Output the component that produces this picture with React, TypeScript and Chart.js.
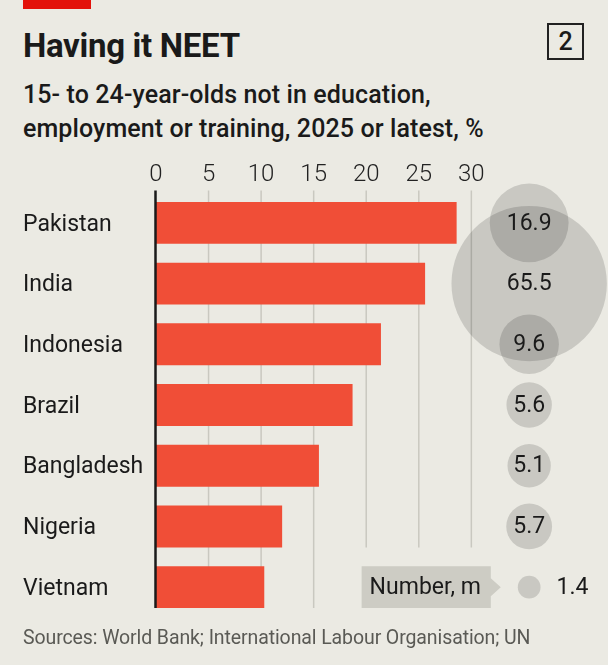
import React, { useEffect, useRef } from 'react';
import { Chart, registerables } from 'chart.js';

Chart.register(...registerables);

// ---- data ----
const categories = ['Pakistan', 'India', 'Indonesia', 'Brazil', 'Bangladesh', 'Nigeria', 'Vietnam'];
const neetSharePct = [28.6, 25.6, 21.4, 18.7, 15.5, 12.0, 10.3];
const neetNumberM = [16.9, 65.5, 9.6, 5.6, 5.1, 5.7, 1.4];
const xTickValues = [0, 5, 10, 15, 20, 25, 30];

// ---- style / layout constants ----
const BG = '#ebeae3';
const BAR_COLOR = '#f04e37';
const BUBBLE_COLOR = 'rgba(0,0,0,0.145)';
const GRID_COLOR = '#c9c8c0';
const TEXT = '#1a1a1a';
const X_MAX = 43;
const BUBBLE_COLUMN_X = 35.5;
const RADIUS_PER_SQRT_M = 9.6;
const LEGEND_TEXT = 'Number, m';

function legendGeometry(chart: any) {
  const bars = chart.getDatasetMeta(0).data;
  const bubbles = chart.getDatasetMeta(1).data;
  const last = bars.length - 1;
  const bar = bars[last];
  const bub = bubbles[last];
  const r = bub.options.radius;
  const ctx = chart.ctx;
  ctx.save();
  ctx.font = '400 23px Roboto';
  const tw = ctx.measureText(LEGEND_TEXT).width;
  ctx.restore();
  const right = bub.x - r - 27;
  const left = right - tw - 18;
  return {
    left,
    right,
    tip: right + 10,
    top: bar.y - bar.height / 2,
    bottom: bar.y + bar.height / 2,
    cy: bar.y,
    textX: left + 8,
  };
}

const overlayPlugin = {
  id: 'overlay',
  beforeDatasetsDraw(chart: any) {
    const { ctx, chartArea, scales } = chart;
    const bars = chart.getDatasetMeta(0).data;
    const lg = legendGeometry(chart);
    const n = bars.length;
    const bottomOf = (i: number) => bars[i].y + bars[i].height / 2;
    ctx.save();
    ctx.strokeStyle = GRID_COLOR;
    ctx.lineWidth = 1.5;
    xTickValues.forEach((v) => {
      if (v === 0) return;
      const x = scales.x.getPixelForValue(v);
      const bottom = x >= lg.left - 2 ? bottomOf(n - 2) : bottomOf(n - 1);
      ctx.beginPath();
      ctx.moveTo(x, chartArea.top - 2);
      ctx.lineTo(x, bottom);
      ctx.stroke();
    });
    ctx.restore();
  },
  afterDatasetsDraw(chart: any) {
    const { ctx, chartArea, scales } = chart;
    const bars = chart.getDatasetMeta(0).data;
    const bubbles = chart.getDatasetMeta(1).data;
    const n = bars.length;
    ctx.save();
    // zero line
    const x0 = scales.x.getPixelForValue(0);
    ctx.strokeStyle = TEXT;
    ctx.lineWidth = 2.5;
    ctx.beginPath();
    ctx.moveTo(x0 - 0.5, chartArea.top - 2);
    ctx.lineTo(x0 - 0.5, bars[n - 1].y + bars[n - 1].height / 2);
    ctx.stroke();

    // bubble labels
    ctx.fillStyle = TEXT;
    ctx.font = '400 23px Roboto';
    ctx.textBaseline = 'middle';
    bubbles.forEach((el: any, i: number) => {
      const r = el.options.radius;
      const label = neetNumberM[i].toFixed(1);
      if (r < 15) {
        ctx.textAlign = 'left';
        ctx.fillText(label, el.x + r + 16, el.y + 1);
      } else {
        ctx.textAlign = 'center';
        ctx.fillText(label, el.x, el.y + 1);
      }
    });

    // legend box
    const lg = legendGeometry(chart);
    ctx.fillStyle = '#cdccc4';
    ctx.beginPath();
    ctx.moveTo(lg.left, lg.top);
    ctx.lineTo(lg.right, lg.top);
    ctx.lineTo(lg.right, lg.cy - 9);
    ctx.lineTo(lg.tip, lg.cy);
    ctx.lineTo(lg.right, lg.cy + 9);
    ctx.lineTo(lg.right, lg.bottom);
    ctx.lineTo(lg.left, lg.bottom);
    ctx.closePath();
    ctx.fill();
    ctx.fillStyle = TEXT;
    ctx.textAlign = 'left';
    ctx.font = '400 23px Roboto';
    ctx.fillText(LEGEND_TEXT, lg.textX, lg.cy + 1);
    ctx.restore();
  },
};

export default function App() {
  const ref = useRef<HTMLCanvasElement | null>(null);

  useEffect(() => {
    document.body.style.margin = '0';
    document.body.style.background = BG;
    const canvas = ref.current;
    if (!canvas) return;
    const chart = new Chart(canvas, {
      type: 'bar',
      data: {
        labels: categories,
        datasets: [
          {
            type: 'bar',
            data: neetSharePct,
            backgroundColor: BAR_COLOR,
            borderWidth: 0,
            barPercentage: 0.69,
            categoryPercentage: 1,
            indexAxis: 'y',
          } as any,
          {
            type: 'bubble',
            data: neetNumberM.map((v, i) => ({
              x: BUBBLE_COLUMN_X,
              y: categories[i],
              r: RADIUS_PER_SQRT_M * Math.sqrt(v),
            })),
            backgroundColor: BUBBLE_COLOR,
            borderWidth: 0,
            hoverBorderWidth: 0,
            hoverRadius: 0,
            clip: false,
          } as any,
        ],
      },
      options: {
        indexAxis: 'y',
        responsive: false,
        animation: false,
        events: [],
        layout: { autoPadding: false, padding: { left: 23, right: 0, top: 0, bottom: 47.5 } },
        plugins: { legend: { display: false }, tooltip: { enabled: false } },
        scales: {
          x: {
            type: 'linear',
            position: 'top',
            min: 0,
            max: X_MAX,
            afterBuildTicks: (s: any) => {
              s.ticks = xTickValues.map((v) => ({ value: v }));
            },
            afterFit: (s: any) => {
              s.height = 192.5;
            },
            grid: { display: false, drawTicks: false },
            border: { display: false },
            ticks: {
              padding: 3,
              color: '#222',
              font: { family: 'Roboto', size: 24, weight: 300 },
              maxRotation: 0,
              autoSkip: false,
            },
          },
          y: {
            type: 'category',
            position: 'left',
            offset: true,
            afterFit: (s: any) => {
              s.width = 133;
            },
            grid: { display: false, drawTicks: false },
            border: { display: false },
            ticks: {
              crossAlign: 'far',
              padding: 0,
              labelOffset: 2,
              color: TEXT,
              font: { family: 'Roboto', size: 23, weight: 400 },
              autoSkip: false,
            },
          },
        },
      } as any,
      plugins: [overlayPlugin],
    });
    return () => chart.destroy();
  }, []);

  const abs: React.CSSProperties = { position: 'absolute', margin: 0, whiteSpace: 'nowrap' };

  return (
    <div style={{ position: 'relative', width: 608, height: 665, background: BG, fontFamily: 'Roboto', color: TEXT, overflow: 'hidden' }}>
      <div style={{ ...abs, left: 23, top: 0, width: 68, height: 9, background: '#e3120b' }} />
      <div style={{ ...abs, left: 23, top: 29, fontSize: 33, lineHeight: '33px', fontWeight: 700, letterSpacing: '-0.3px' }}>
        Having it NEET
      </div>
      <div style={{ ...abs, left: 547, top: 22.5, width: 33, height: 33, border: '2px solid #222', fontSize: 25, lineHeight: '33px', fontWeight: 500, textAlign: 'center' }}>
        2
      </div>
      <div style={{ ...abs, left: 23, top: 78, fontSize: 25, lineHeight: '34px', fontWeight: 500, letterSpacing: '0.1px' }}>
        15- to 24-year-olds not in education,
        <br />
        employment or training, 2025 or latest, %
      </div>
      <canvas ref={ref} width={608} height={665} style={{ position: 'absolute', left: 0, top: 0 }} />
      <div style={{ ...abs, left: 23, top: 628, fontSize: 19.5, lineHeight: '20px', fontWeight: 400, color: '#5a5a55', letterSpacing: '-0.1px' }}>
        Sources: World Bank; International Labour Organisation; UN
      </div>
    </div>
  );
}
